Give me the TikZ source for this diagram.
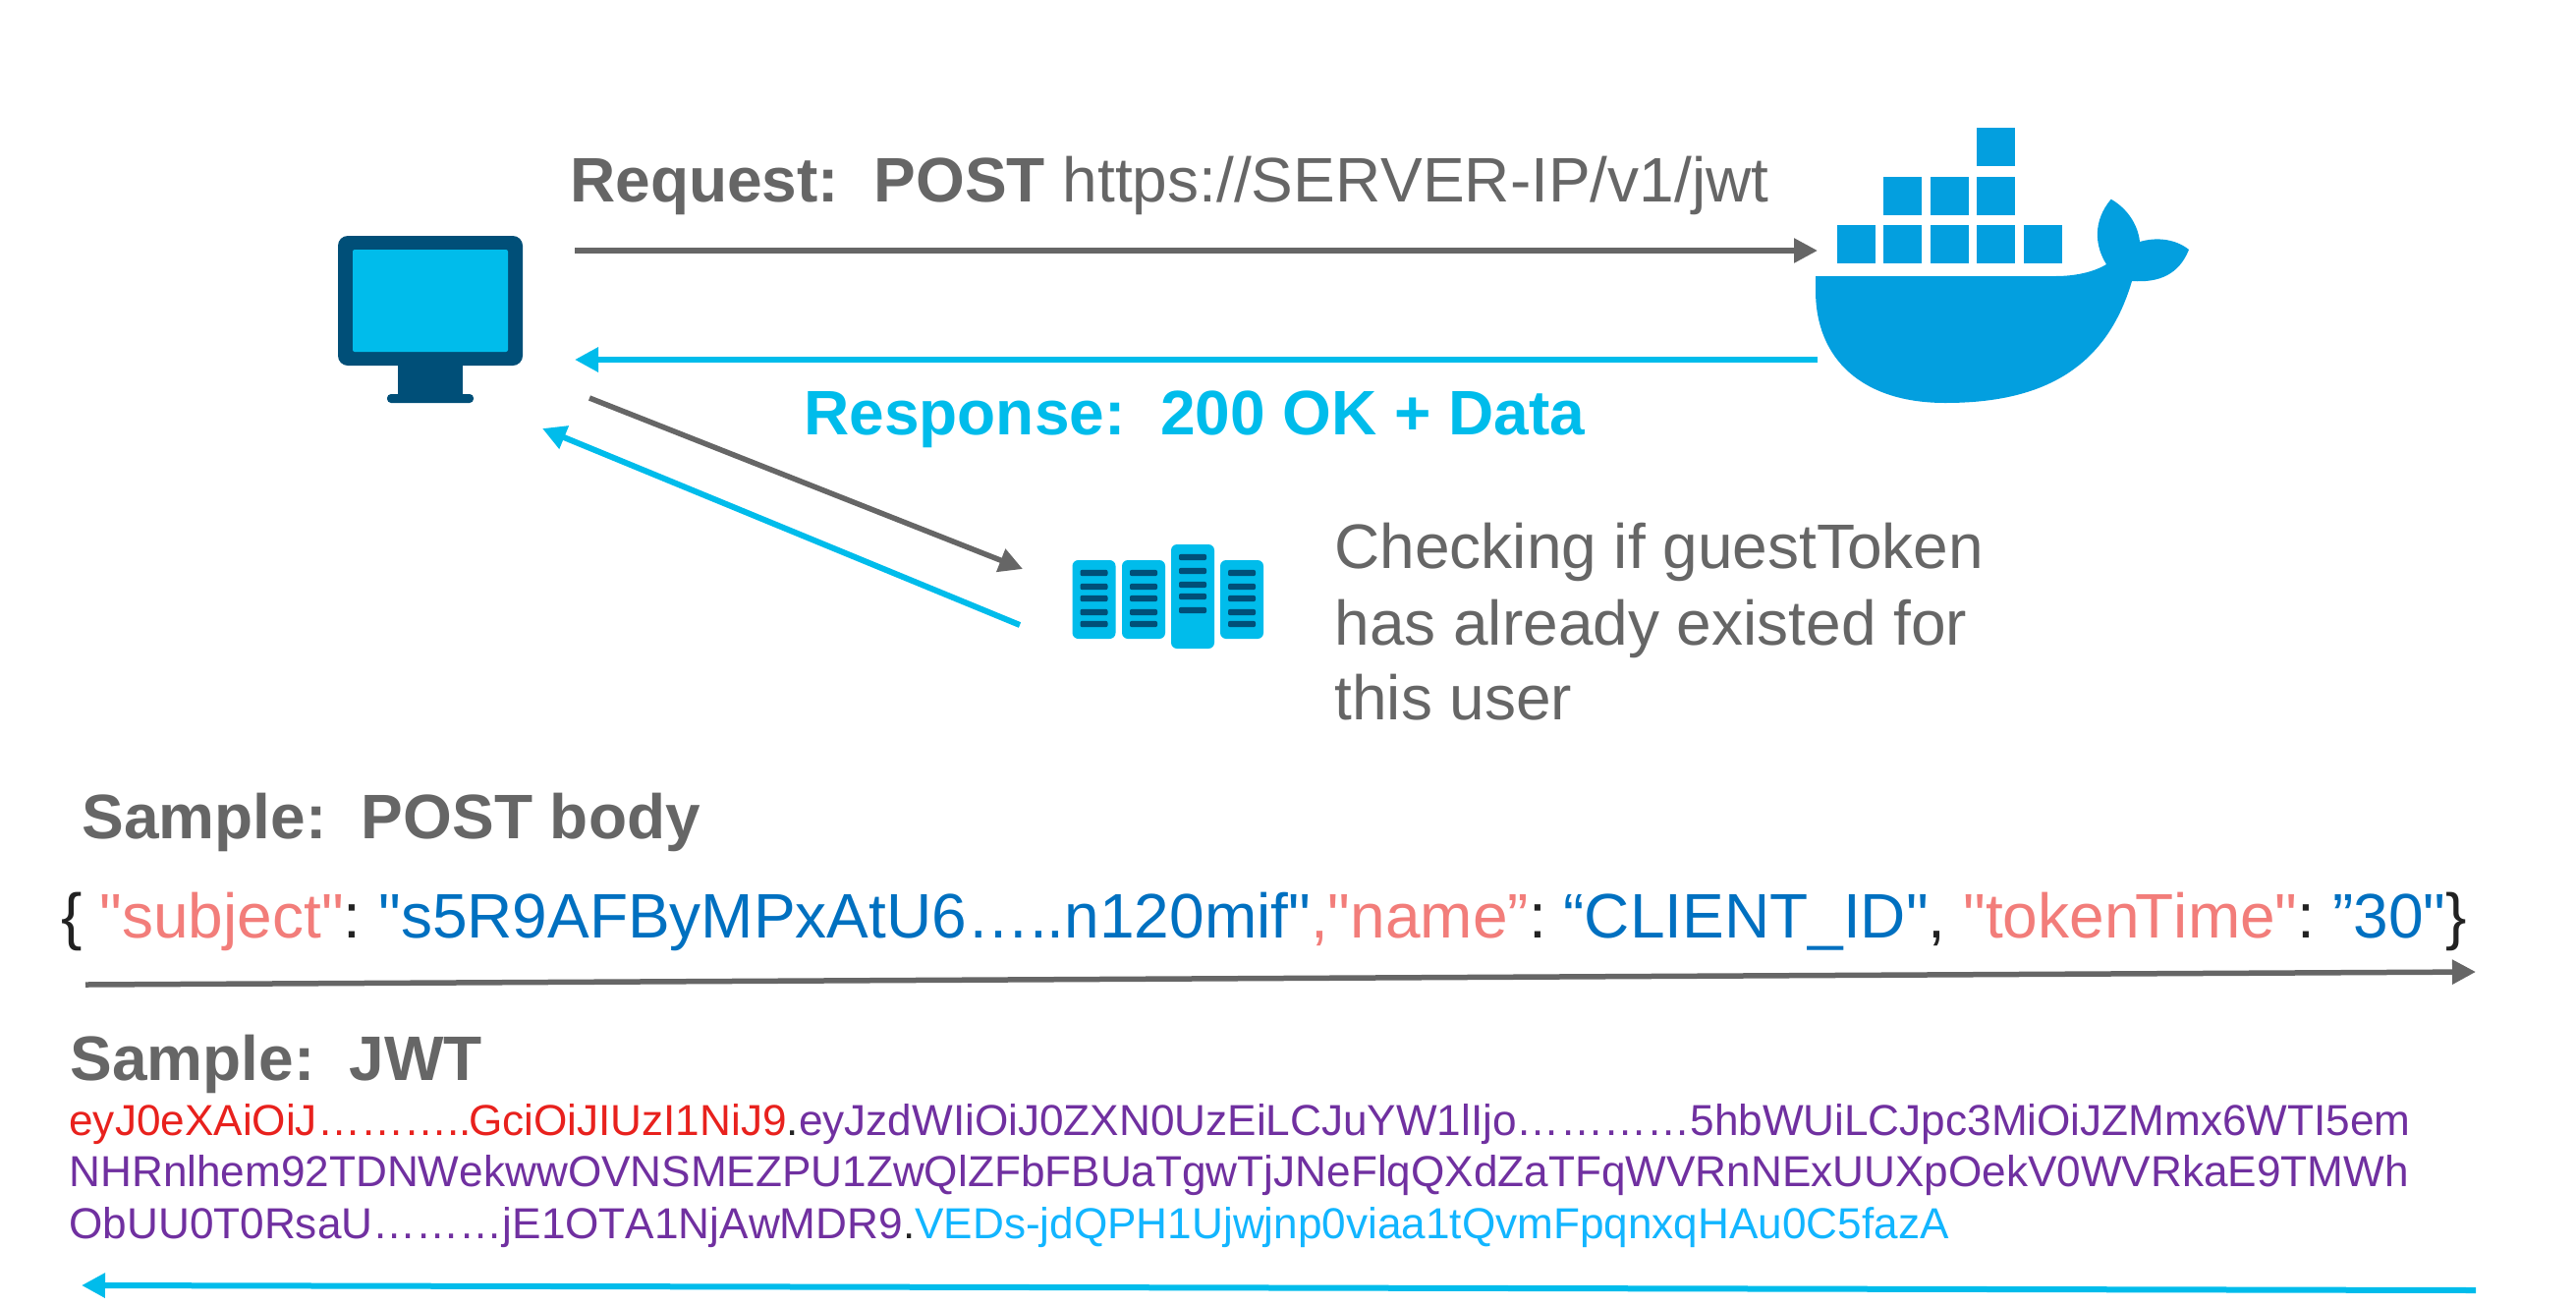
\documentclass[tikz,border=0pt]{standalone}
\usepackage{fontspec}
\setmainfont{Liberation Sans}[Ligatures=TeXOff,Kerning=Off]
\usepackage{tikz}
\usetikzlibrary{positioning,arrows.meta}
\definecolor{txtgray}{HTML}{666666}
\definecolor{ciscocyan}{HTML}{00BCEB}
\definecolor{ciscodark}{HTML}{004F78}
\definecolor{dockerblue}{HTML}{039FDF}
\definecolor{keypink}{HTML}{F27D7A}
\definecolor{valblue}{HTML}{0070C0}
\definecolor{jwtred}{HTML}{E8211D}
\definecolor{jwtpurple}{HTML}{7030A0}
\definecolor{jwtcyan}{HTML}{12B5FF}
\definecolor{nearblack}{HTML}{222222}
\newcommand{\bigfont}{\frenchspacing\fontsize{32}{38.5}\selectfont}
\newcommand{\tokfont}{\frenchspacing\fontsize{22.07}{26}\selectfont}

\begin{document}
\begin{tikzpicture}[x=0.5pt, y=-0.5pt,
        grayarrow/.style={draw=txtgray, line width=2.75pt, -{Triangle[length=12pt, width=12pt]}},
        cyanarrow/.style={draw=ciscocyan, line width=3pt, -{Triangle[length=12pt, width=12pt]}},
        label/.style={inner sep=0pt, anchor=base west, font=\bigfont, text=txtgray},
        token/.style={inner sep=0pt, anchor=base west, font=\tokfont, text=jwtpurple},
        box/.style={fill=dockerblue, inner sep=0pt, minimum size=19.5pt},
        rack/.style={fill=ciscocyan, inner sep=0pt, minimum width=22pt, rounded corners=3pt},
        slot/.style={fill=ciscodark, inner sep=0pt, minimum width=14pt, minimum height=3.2pt, rounded corners=1pt}]
    \useasboundingbox (0,0) rectangle (2622,1328);

    % monitor
    \node[fill=ciscodark, inner sep=0pt, minimum width=33pt, minimum height=20pt] (neck) at (438,386) {};
    \node[fill=ciscodark, inner sep=0pt, minimum width=44pt, minimum height=4.5pt, rounded corners=2pt] (foot) at (438,405.5) {};
    \node[fill=ciscodark, inner sep=0pt, minimum width=94pt, minimum height=66pt, rounded corners=5pt] (monitor) at (438,306) {};
    \node[fill=ciscocyan, inner sep=0pt, minimum width=79pt, minimum height=52pt, rounded corners=1pt] (screen) at (438,306) {};

    % containers
    \foreach \cx in {1889,1936,1984,2031,2079}
        \node[box] (low\cx) at (\cx,248.5) {};
    \foreach \cx in {1936,1984,2031}
        \node[box] (mid\cx) at (\cx,199) {};
    \node[box] (top) at (2031,149.5) {};

    % whale
    \fill[dockerblue] (1848,281) -- (2092,281)
        .. controls (2112,281) and (2131,277) .. (2144,269)
        .. controls (2132,250) and (2130,225) .. (2148.7,202.7)
        .. controls (2165,212) and (2176,228) .. (2178,246)
        .. controls (2195,241) and (2214,243) .. (2228,254)
        .. controls (2218,279) and (2198,288) .. (2170,286)
        .. controls (2143,378) and (2075,410) .. (1980,410)
        .. controls (1895,410) and (1848,365) .. (1848,296) -- cycle;

    % servers
    \node[rack, minimum height=40pt] (rackA) at (1113.5,610) {};
    \node[rack, minimum height=40pt] (rackB) at (1164,610) {};
    \node[rack, minimum height=53pt] (rackC) at (1214,607) {};
    \node[rack, minimum height=40pt] (rackD) at (1264,610) {};
    \foreach \sy in {583,597,609,623,635} {
        \node[slot] (slotA\sy) at (1113.5,\sy) {};
        \node[slot] (slotB\sy) at (1164,\sy) {};
        \node[slot] (slotD\sy) at (1264,\sy) {};
    }
    \foreach \sy in {567,581,595,607,621}
        \node[slot] (slotC\sy) at (1214,\sy) {};

    % arrow ends
    \coordinate (reqstart) at (585,255);
    \coordinate (reqend) at (1850,255);
    \coordinate (respstart) at (1850,366);
    \coordinate (respend) at (585,366);
    \coordinate (checkstart) at (600,405);
    \coordinate (checkend) at (1041,579);
    \coordinate (backstart) at (1038,636);
    \coordinate (backend) at (552,436);
    \coordinate (bodystart) at (87,1002);
    \coordinate (bodyend) at (2520,989);
    \coordinate (jwtstart) at (2520,1313);
    \coordinate (jwtend) at (83,1308);

    \path
        (reqstart) edge[grayarrow] (reqend)
        (respstart) edge[cyanarrow] (respend)
        (checkstart) edge[grayarrow] (checkend)
        (backstart) edge[cyanarrow] (backend)
        (bodystart) edge[grayarrow] (bodyend)
        (jwtstart) edge[cyanarrow] (jwtend)
        ;

    % texts
    \node[label] (request) at (580,205) {\textbf{Request:\ \ POST} https://SERVER-IP/v1/jwt};
    \node[label, text=ciscocyan] (response) at (818,442) {\textbf{Response:\ \ 200 OK + Data}};
    \node[label] (checkA) at (1358,578) {Checking if guestT\kern-4pt oken};
    \node[label] (checkB) at (1358,656) {has already existed for};
    \node[label] (checkC) at (1358,732) {this user};
    \node[label] (samplebody) at (83,853) {\textbf{Sample:\ \ POST body}};
    \node[label, text=nearblack] (body) at (62,954) {\{ \textcolor{keypink}{"subject"}: \textcolor{valblue}{"s5R9AFByMPxAtU6…..n120mif"}\textcolor{keypink}{,"name”}: \textcolor{valblue}{“CLIENT\_ID"}, \textcolor{keypink}{"token\kern-2pt Time"}: \textcolor{valblue}{”30"}\}};
    \node[label] (samplejwt) at (71,1099) {\textbf{Sample:\ \ JWT}};
    \node[token] (tokA) at (70,1155) {\textcolor{jwtred}{eyJ0eXAiOiJ………..\kern-1.5pt GciOiJIUzI1NiJ9}\textcolor{nearblack}{.}eyJzdWIiOiJ0ZXN0UzEiLCJuYW1lIjo…………5hbWUiLCJpc3MiOiJZMmx6WTI5em};
    \node[token] (tokB) at (70,1207) {NHRnlhem92TDNWekwwOVNSMEZPU1ZwQlZFbFBUaTgwTjJNeFlqQXdZaTFqWVRnNExUUXpOekV0WVRkaE9TMWh};
    \node[token] (tokC) at (70,1260) {ObUU0T0RsaU………jE1OTA1NjAwMDR9\textcolor{nearblack}{.}\textcolor{jwtcyan}{VEDs-jdQPH1Ujwjnp0viaa1tQvmFpqnxqHAu0C5fazA}};
\end{tikzpicture}
\end{document}
